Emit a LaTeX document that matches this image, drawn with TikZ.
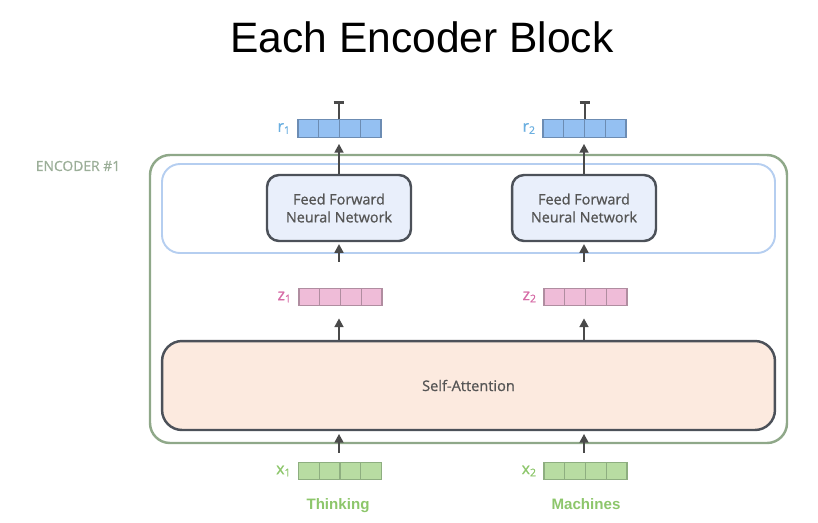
\documentclass[tikz,border=0pt]{standalone}
\usepackage{fontspec}
\usepackage{tikz}
\usetikzlibrary{arrows.meta}
\usetikzlibrary{calc}
\newfontfamily\opensans[FakeBold=0.9]{Open Sans}
\newfontfamily\arialfont{Liberation Sans}

\definecolor{encgreen}{HTML}{8FA889}
\definecolor{enctext}{HTML}{9BAE98}
\definecolor{ffnline}{HTML}{B5CEF0}
\definecolor{boxline}{HTML}{4C5159}
\definecolor{ffnfill}{HTML}{E9EFFB}
\definecolor{safill}{HTML}{FCEADF}
\definecolor{boxtext}{HTML}{555555}
\definecolor{rfill}{HTML}{94C0F2}
\definecolor{rline}{HTML}{6C8CB3}
\definecolor{rtext}{HTML}{6BAFE0}
\definecolor{zfill}{HTML}{EFBCD8}
\definecolor{zline}{HTML}{B08DA0}
\definecolor{ztext}{HTML}{D66BA6}
\definecolor{xfill}{HTML}{B8DCA2}
\definecolor{xline}{HTML}{8EAE80}
\definecolor{xtext}{HTML}{8DC66B}
\definecolor{arrowgrey}{HTML}{4A4A4A}

\tikzset{
	vecbox/.style 2 args = {draw = #2, fill = #1, line width = 0.7pt, inner sep = 0pt,
		minimum width = 1.66cm, minimum height = 0.35cm,
		path picture = {\foreach \i in {1,2,3}
			\draw[#2, line width = 0.7pt]
			($(path picture bounding box.south west)!\i/4!(path picture bounding box.south east)$) --
			($(path picture bounding box.north west)!\i/4!(path picture bounding box.north east)$);}},
	veclabel/.style = {anchor = east, inner sep = 0pt, font = \opensans\fontsize{9}{10}\selectfont},
	ffnbox/.style = {draw = boxline, fill = ffnfill, line width = 1.4pt, rounded corners = 0.24cm,
		minimum width = 2.88cm, minimum height = 1.32cm, align = center, text = boxtext,
		font = \opensans\fontsize{8.2}{10.2}\selectfont},
	flow/.style = {draw = arrowgrey, line width = 1.4pt, -{Triangle[width=5pt, length=5pt]}},
	wordlabel/.style = {anchor = base, text = xtext, font = \arialfont\bfseries\fontsize{8.6}{10}\selectfont}
}

\begin{document}
\begin{tikzpicture}[x = 0.02cm, y = -0.02cm]
	\useasboundingbox (0,0) rectangle (818,522);
	
	\node[anchor = base, font = \arialfont\fontsize{24.2}{28}\selectfont] (title) at (422,52) {Each Encoder Block};
	
	% encoder frame
	\draw[encgreen, line width = 1.4pt, rounded corners = 0.4cm] (150,155) rectangle (787,443);
	\node[text = enctext, font = \opensans\fontsize{7.9}{10}\selectfont] (enclabel) at (78,166) {ENCODER \#1};
	
	% feed forward layer
	\draw[ffnline, line width = 1.1pt, rounded corners = 0.36cm] (162,164) rectangle (775,253);
	\node[ffnbox] (ffn1) at (339,208) {Feed Forward\\Neural Network};
	\node[ffnbox] (ffn2) at (584,208) {Feed Forward\\Neural Network};
	
	% self-attention layer
	\node[draw = boxline, fill = safill, line width = 1.4pt, rounded corners = 0.4cm,
		minimum width = 12.26cm, minimum height = 1.78cm, text = boxtext,
		font = \opensans\fontsize{8.3}{10}\selectfont] (sa) at (468.5,385.5) {Self-Attention};
	
	% vectors
	\node[vecbox = {rfill}{rline}] (r1) at (339.5,128.5) {};
	\node[vecbox = {rfill}{rline}] (r2) at (584.5,128.5) {};
	\node[vecbox = {zfill}{zline}] (z1) at (340.5,297) {};
	\node[vecbox = {zfill}{zline}] (z2) at (585.5,297) {};
	\node[vecbox = {xfill}{xline}] (x1) at (340,471) {};
	\node[vecbox = {xfill}{xline}] (x2) at (585.5,471) {};
	
	\node[veclabel, text = rtext] (r1lab) at ([xshift = -3.5pt]r1.west) {r\textsubscript{1}};
	\node[veclabel, text = rtext] (r2lab) at ([xshift = -3.5pt]r2.west) {r\textsubscript{2}};
	\node[veclabel, text = ztext] (z1lab) at ([xshift = -3.5pt]z1.west) {z\textsubscript{1}};
	\node[veclabel, text = ztext] (z2lab) at ([xshift = -3.5pt]z2.west) {z\textsubscript{2}};
	\node[veclabel, text = xtext] (x1lab) at ([xshift = -3.5pt]x1.west) {x\textsubscript{1}};
	\node[veclabel, text = xtext] (x2lab) at ([xshift = -3.5pt]x2.west) {x\textsubscript{2}};
	
	\node[wordlabel] (word1) at (338,509) {Thinking};
	\node[wordlabel] (word2) at (586,509) {Machines};
	
	% arrows
	\coordinate (out1) at (339,101);
	\coordinate (out2) at (585,101);
	\draw[arrowgrey, line width = 1.5pt, -{Bar[width=6pt, line width = 1.8pt]}] (r1.north -| out1) -- (out1);
	\draw[arrowgrey, line width = 1.5pt, -{Bar[width=6pt, line width = 1.8pt]}] (r2.north -| out2) -- (out2);
	\draw[flow, shorten > = 3.4pt] (ffn1.north) -- (ffn1.north |- r1.south);
	\draw[flow, shorten > = 3.4pt] (ffn2.north) -- (ffn2.north |- r2.south);
	\draw[flow, shorten < = 14.7pt, shorten > = 1pt] (ffn1.south |- z1.north) -- (ffn1.south);
	\draw[flow, shorten < = 14.7pt, shorten > = 1pt] (ffn2.south |- z2.north) -- (ffn2.south);
	\draw[flow, shorten > = 6.8pt] (ffn1.south |- sa.north) -- (ffn1.south |- z1.south);
	\draw[flow, shorten > = 6.8pt] (ffn2.south |- sa.north) -- (ffn2.south |- z2.south);
	\draw[flow, shorten < = 5pt, shorten > = 1.5pt] (ffn1.south |- x1.north) -- (ffn1.south |- sa.south);
	\draw[flow, shorten < = 5pt, shorten > = 1.5pt] (ffn2.south |- x2.north) -- (ffn2.south |- sa.south);
\end{tikzpicture}
\end{document}
